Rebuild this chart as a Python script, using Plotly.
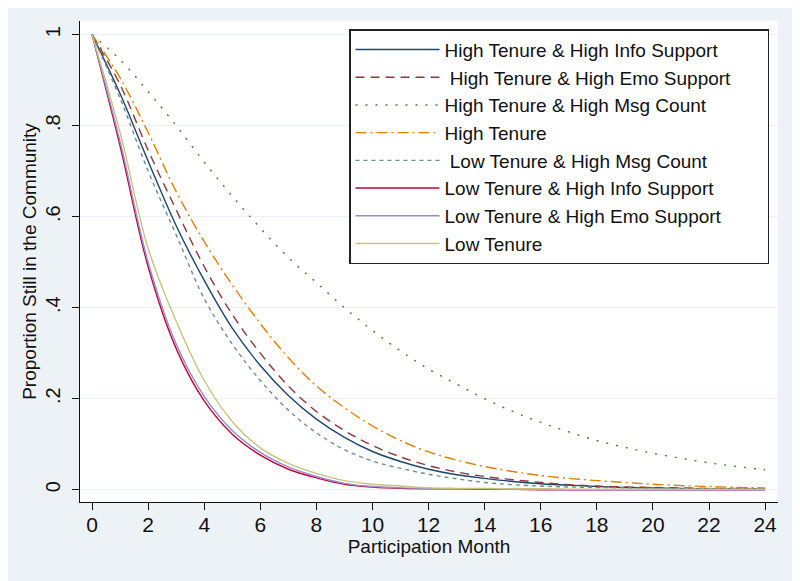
import plotly.graph_objects as go

# mois de participation
months = list(range(0, 25))

# proportions encore présentes (une valeur par mois)
hi_ten_hi_info = [1.0, 0.87, 0.722, 0.58, 0.46, 0.355, 0.273, 0.207, 0.155, 0.115, 0.084, 0.062, 0.045,
                  0.033, 0.025, 0.018, 0.013, 0.01, 0.007, 0.005, 0.004, 0.003, 0.002, 0.002, 0.002]
hi_ten_hi_emo = [1.0, 0.89, 0.746, 0.615, 0.49, 0.385, 0.30, 0.228, 0.172, 0.13, 0.097, 0.072, 0.053,
                 0.039, 0.029, 0.022, 0.016, 0.011, 0.008, 0.006, 0.005, 0.004, 0.003, 0.003, 0.002]
hi_ten_hi_msg = [1.0, 0.945, 0.875, 0.80, 0.72, 0.645, 0.575, 0.51, 0.455, 0.40, 0.35, 0.305, 0.265,
                 0.232, 0.20, 0.172, 0.148, 0.127, 0.108, 0.093, 0.08, 0.069, 0.059, 0.051, 0.044]
hi_ten = [1.0, 0.905, 0.785, 0.655, 0.545, 0.45, 0.365, 0.29, 0.228, 0.18, 0.14, 0.108, 0.083,
          0.065, 0.051, 0.04, 0.031, 0.025, 0.02, 0.016, 0.012, 0.009, 0.007, 0.005, 0.004]
lo_ten_hi_msg = [1.0, 0.86, 0.70, 0.56, 0.42, 0.32, 0.24, 0.175, 0.125, 0.088, 0.063, 0.047, 0.034,
                 0.024, 0.016, 0.011, 0.008, 0.006, 0.005, 0.004, 0.003, 0.003, 0.002, 0.002, 0.002]
lo_ten_hi_info = [1.0, 0.755, 0.49, 0.31, 0.195, 0.122, 0.076, 0.045, 0.026, 0.012, 0.006, 0.003, 0.002,
                  0.002, 0.001, 0.001, 0.0, 0.0, 0.0, 0.0, 0.0, 0.0, 0.0, 0.0, 0.0]
lo_ten_hi_emo = [1.0, 0.765, 0.50, 0.32, 0.205, 0.13, 0.082, 0.05, 0.029, 0.014, 0.007, 0.004, 0.003,
                 0.002, 0.002, 0.001, 0.001, 0.0, 0.0, 0.0, 0.0, 0.0, 0.0, 0.0, 0.0]
lo_ten = [1.0, 0.785, 0.53, 0.37, 0.24, 0.15, 0.092, 0.058, 0.036, 0.02, 0.012, 0.008, 0.004,
          0.003, 0.003, 0.002, 0.002, 0.001, 0.001, 0.001, 0.001, 0.001, 0.001, 0.001, 0.001]

# espaces insécables en fin de la plus longue entrée : la boîte de légende est plus large dans l'original
noms = ["High Tenure & High Info Support", " High Tenure & High Emo Support" + "\u00a0" * 6,
        "High Tenure & High Msg Count", "High Tenure", " Low Tenure & High Msg Count",
        "Low Tenure & High Info Support", "Low Tenure & High Emo Support", "Low Tenure"]
series = [hi_ten_hi_info, hi_ten_hi_emo, hi_ten_hi_msg, hi_ten, lo_ten_hi_msg, lo_ten_hi_info, lo_ten_hi_emo, lo_ten]

# palette s2color de Stata
couleurs = ["#1a476f", "#90353b", "#55752f", "#e37e00", "#6e8e84", "#c10534", "#938dd2", "#cac27e"]
tirets = ["solid", "9px,6px", "2px,8px", "11px,4px,2px,4px", "4px,4px", "solid", "solid", "solid"]

fond = "#edf2f7"

fig = go.Figure()
for nom, y, c, d in zip(noms, series, couleurs, tirets):
    fig.add_trace(go.Scatter(x=months, y=y, name=nom, mode="lines", line_shape="spline",
                             line=dict(color=c, width=1.4, dash=d)))

# la page html décale la figure de 8px (marge du body) -> marges compensées
fig.update_layout(
    width=800, height=581,
    paper_bgcolor=fond, plot_bgcolor="white",
    margin=dict(l=72, r=30, t=13, b=87),
    font=dict(family="Arial, Liberation Sans, sans-serif", color="#111", size=19),
    showlegend=True,
    legend=dict(x=0.3854, y=0.983, xanchor="left", yanchor="top",
                bgcolor="white", bordercolor="#222", borderwidth=1.5,
                font=dict(size=19), itemwidth=84, traceorder="normal"),
    xaxis=dict(range=[-0.43, 24.46], tickvals=list(range(0, 25, 2)), showgrid=False, zeroline=False,
               showline=True, linecolor="#111", linewidth=1.3, ticks="outside", ticklen=7, tickcolor="#111",
               tickfont=dict(size=21), automargin=False, ticklabelstandoff=-3,
               title=dict(text="Participation Month", font=dict(size=19), standoff=2)),
    yaxis=dict(range=[-0.027, 1.03], tickvals=[0, 0.2, 0.4, 0.6, 0.8, 1],
               ticktext=["0", ".2", ".4", ".6", ".8", "1"], tickangle=-90,
               showgrid=True, gridcolor="#eaf0f5", gridwidth=1.2, zeroline=False,
               showline=True, linecolor="#111", linewidth=1.3, ticks="outside", ticklen=7, tickcolor="#111",
               tickfont=dict(size=20), automargin=False, ticklabelstandoff=4,
               title=dict(text="Proportion Still in the Community", font=dict(size=19), standoff=0)),
)

fig.write_html("out.html")
